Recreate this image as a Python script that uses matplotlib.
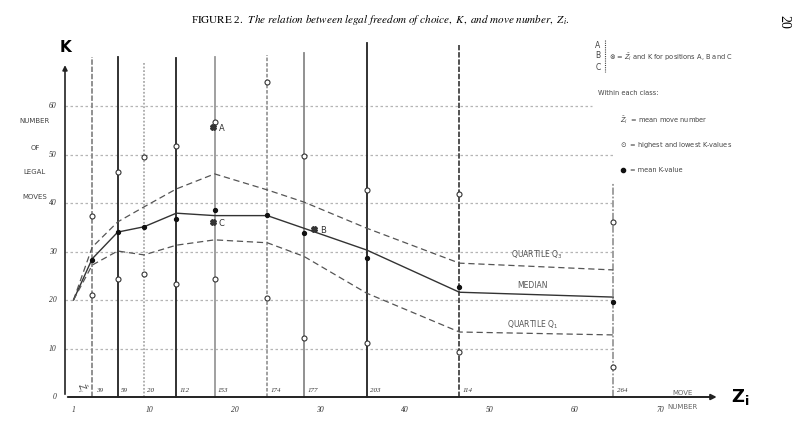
import matplotlib.pyplot as plt

# class mean move numbers (Z) and number of positions in each class
z_class = [3.2, 6.2, 9.3, 13.1, 17.6, 23.8, 28.1, 35.5, 46.4, 64.5]
n_class = ['39', '59', '20', '112', '153', '174', '177', '203', '114', '264']

# highest / lowest / mean K within each class
k_high = [37.3, 46.4, 49.5, 51.8, 56.7, 65.0, 49.7, 42.6, 41.9, 36.1]
k_low = [21.0, 24.3, 25.4, 23.3, 24.3, 20.4, 12.2, 11.1, 9.3, 6.2]
k_mean = [28.2, 34.0, 35.0, 36.7, 38.6, 37.5, 33.8, 28.7, 22.7, 19.6]

# quartile curves, starting from the opening position (move 1, K = 20)
curve_z = [1] + z_class
q3 = [20, 30.9, 36.1, 39.2, 42.9, 46.0, 42.7, 40.2, 34.8, 27.6, 26.2]
median = [20, 28.5, 34.0, 35.1, 37.9, 37.4, 37.4, 34.8, 30.3, 21.6, 20.6]
q1 = [20, 27.2, 30.1, 29.3, 31.3, 32.4, 31.8, 29.0, 21.4, 13.4, 12.8]

# positions A, B and C
pos_names = ['A', 'B', 'C']
pos_z = [17.4, 29.3, 17.4]
pos_k = [55.7, 34.6, 36.1]

y_ticks = [0, 10, 20, 30, 40, 50, 60]
x_ticks = [1, 10, 20, 30, 40, 50, 60, 70]

# how tall each class line is drawn, and its look in the scan
line_top = [70.1, 70.1, 68.9, 69.9, 70.1, 70.5, 70.9, 73.0, 72.6, 44.1]
line_col = ['#888', '#222', '#aaa', '#222', '#999', '#999', '#888', '#222', '#444', '#999']
line_ls = [(0, (3, 1)), '-', (0, (1, 1)), '-', '-', (0, (2, 1)), '-', '-', (0, (3, 1)), (0, (4, 1, 1, 1))]

fig = plt.figure(figsize=(8, 4.44), dpi=100)
ax = fig.add_axes([0, 0, 1, 1])
# map pixels: Z=0 at x=65, 8.5 px per move; K=0 at y=397, 4.85 px per move
ax.set_xlim(-65 / 8.5, (800 - 65) / 8.5)
ax.set_ylim((397 - 444) / 4.85, 397 / 4.85)
ax.axis('off')

serif = 'Liberation Serif'

# horizontal guide lines
for k in y_ticks[1:]:
    end = 62 if k == 60 else 64.5
    ax.plot([0, end], [k, k], color='#b5b5b5', lw=0.9, ls=(0, (2, 2)), zorder=1)
    ax.text(-1.0, k, str(k), ha='right', va='center', fontsize=5.5,
            family=serif, style='italic', color='#333')
ax.text(-1.0, 0, '0', ha='right', va='center', fontsize=5.5,
        family=serif, style='italic', color='#333')

# class lines
for z, top, c, ls, n in zip(z_class, line_top, line_col, line_ls, n_class):
    ax.plot([z, z], [0, top], color=c, lw=1.3, ls=ls, zorder=2)
    ax.text(z + 0.4, 0.8, n, ha='left', va='bottom', fontsize=5,
            family=serif, style='italic', color='#333')

# axes with arrows
ax.annotate('', xy=(0, 69), xytext=(0, 0),
            arrowprops=dict(arrowstyle='-|>', color='#222', lw=1.2, mutation_scale=7))
ax.annotate('', xy=(77, 0), xytext=(0, 0),
            arrowprops=dict(arrowstyle='-|>', color='#222', lw=1.4, mutation_scale=8))
ax.text(0, 70.5, 'K', ha='center', va='bottom', fontsize=11, fontweight='bold')
ax.text(78.4, 0, r'$\mathbf{Z_i}$', ha='left', va='center', fontsize=13)

for x in x_ticks:
    ax.text(x, -1.8, str(x), ha='center', va='top', fontsize=5.5,
            family=serif, style='italic', color='#333')
ax.text(0.9, 1.2, r'$\bar{Z}_i$', rotation=-70, fontsize=5.5, color='#444')

# quartiles and median
ax.plot(curve_z, q3, color='#555', lw=0.9, ls=(0, (5, 3)), zorder=3)
ax.plot(curve_z, median, color='#333', lw=1.0, zorder=3)
ax.plot(curve_z, q1, color='#555', lw=0.9, ls=(0, (5, 3)), zorder=3)
ax.text(55.5, 28.0, 'QUARTILE Q$_3$', fontsize=5.5, color='#555', ha='center', va='bottom')
ax.text(55.0, 22.0, 'MEDIAN', fontsize=5.5, color='#555', ha='center', va='bottom')
ax.text(55.0, 13.6, 'QUARTILE Q$_1$', fontsize=5.5, color='#555', ha='center', va='bottom')

# high/low and mean values
ax.plot(z_class, k_high, 'o', mfc='white', mec='#333', ms=3.6, mew=0.8, ls='none', zorder=4)
ax.plot(z_class, k_low, 'o', mfc='white', mec='#333', ms=3.6, mew=0.8, ls='none', zorder=4)
ax.plot(z_class, k_mean, 'o', color='#111', ms=2.8, ls='none', zorder=4)

ax.plot(pos_z, pos_k, marker='X', color='#333', ms=4, ls='none', zorder=5)
for name, z, k in zip(pos_names, pos_z, pos_k):
    ax.text(z + 0.7, k - 0.3, name, fontsize=6, color='#333', va='center')

# left label
for text, y in zip(['NUMBER', 'OF', 'LEGAL', 'MOVES'], [121, 148, 172, 197]):
    fig.text(35 / 800, 1 - y / 444, text, ha='center', va='center', fontsize=5, color='#444')
fig.text(683 / 800, 1 - 393 / 444, 'MOVE', ha='center', va='center', fontsize=5, color='#666')
fig.text(683 / 800, 1 - 407 / 444, 'NUMBER', ha='center', va='center', fontsize=5, color='#666')

# title and page number
fig.text(380 / 800, 1 - 20 / 444,
         r'F$\mathrm{IGURE}$ 2.  $\it{The\ relation\ between\ legal\ freedom\ of\ choice,\ K,\ and\ move\ number,\ Z_i.}$',
         ha='center', va='center', fontsize=8, family=serif, math_fontfamily='stix')
fig.text(784 / 800, 1 - 22 / 444, '20', rotation=-90, ha='center', va='center',
         fontsize=10, family=serif)

# key
for text, y in zip(['A', 'B', 'C'], [45, 56, 68]):
    fig.text(598 / 800, 1 - y / 444, text, ha='center', va='center', fontsize=5.5, color='#444')
fig.add_artist(plt.Line2D([605 / 800, 605 / 800], [1 - 40 / 444, 1 - 72 / 444],
                          color='#444', lw=0.8, ls=(0, (1, 1))))
fig.text(609 / 800, 1 - 57 / 444, r'$\otimes$ = $\bar{Z}_i$ and K for positions A, B and C',
         ha='left', va='center', fontsize=4.8, color='#444')
fig.text(598 / 800, 1 - 93 / 444, 'Within each class:', ha='left', va='center',
         fontsize=4.8, color='#444')
fig.text(620 / 800, 1 - 120 / 444, r'$\bar{Z}_i$  = mean move number', ha='left', va='center',
         fontsize=4.8, color='#444')
fig.text(620 / 800, 1 - 145 / 444, r'$\odot$  = highest and lowest K-values', ha='left',
         va='center', fontsize=4.8, color='#444')
fig.add_artist(plt.Line2D([623 / 800], [1 - 170 / 444], marker='o', color='#111', ms=3))
fig.text(630 / 800, 1 - 170 / 444, '= mean K-value', ha='left', va='center',
         fontsize=4.8, color='#444')

fig.savefig('out.png', dpi=100)
